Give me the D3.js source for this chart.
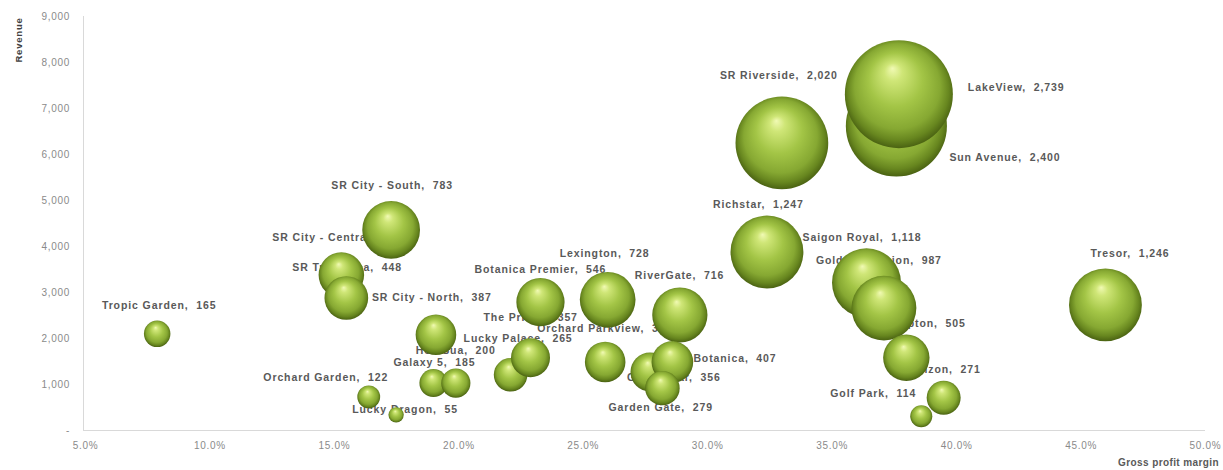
<!DOCTYPE html>
<html><head><meta charset="utf-8">
<script src="https://cdn.jsdelivr.net/npm/d3@7"></script>
<style>body{margin:0;background:#fff}svg{display:block}</style>
</head><body>
<svg id="c" width="1223" height="470"></svg>
<script>
const names = ["Tropic Garden","Orchard Garden","Lucky Dragon","SR City - South","SR City - Central","SR Tropicana","SR City - North","Galaxy 5","Hoa Sua","Lucky Palace","The Prince","Botanica Premier","Lexington","Orchard Parkview","RiverGate","Green Star","Botanica","Garden Gate","SR Riverside","Richstar","Sun Avenue","LakeView","Saigon Royal","Golden Mansion","Hampton","Horizon","Golf Park","Tresor"];
const margin = [7.9,16.4,17.5,17.3,15.3,15.5,19.1,19.0,19.9,22.1,22.9,23.3,26.0,25.9,28.9,27.7,28.6,28.2,33.0,32.4,37.6,37.7,36.4,37.1,38.0,39.5,38.6,46.0];
const revenue = [2090,720,330,4350,3370,2870,2070,1020,1020,1200,1570,2780,2830,1480,2500,1260,1480,910,6240,3870,6610,7300,3200,2650,1570,700,300,2720];
const units = [165,122,55,783,486,448,387,185,200,265,357,546,728,386,716,356,407,279,2020,1247,2400,2739,1118,987,505,271,114,1246];
const xTicks = [5,10,15,20,25,30,35,40,45,50];
const yTicks = [0,1000,2000,3000,4000,5000,6000,7000,8000,9000];
// label offsets (px) from bubble centre to label anchor
const labelOff = [[2,-29,"middle"],[-43,-20,"middle"],[9,-6,"middle"],[1,-45,"middle"],[-69,-38,"start"],[-54,-31,"start"],[-64,-38,"start"],[-40,-21,"start"],[-40,-33,"start"],[-47,-37,"start"],[-47,-41,"start"],[-66,-33,"start"],[-48,-47,"start"],[-68,-34,"start"],[-45,-40,"start"],[-23,5,"start"],[21,-4,"start"],[-54,19,"start"],[-62,-68,"start"],[-54,-48,"start"],[53,31,"start"],[69,-7,"start"],[-64,-46,"start"],[-68,-48,"start"],[-24,-35,"start"],[-40,-29,"start"],[-91,-23,"start"],[-15,-52,"start"]];

const svg = d3.select("#c");
const x = d3.scaleLinear().domain([5,50]).range([85,1205]);
const y = d3.scaleLinear().domain([0,9000]).range([430,16]);
const r = d3.scaleSqrt().domain([0,2739]).range([0,54]);
const FONT = "Liberation Sans, Arial, sans-serif";

const defs = svg.append("defs");
const g = defs.append("radialGradient").attr("id","ball").attr("cx","50%").attr("cy","48%").attr("r","52%").attr("fx","44%").attr("fy","26%");
[[0,"#f1fab4"],[0.16,"#cfe677"],[0.48,"#a3c546"],[0.76,"#86a832"],[0.9,"#67861f"],[1,"#4a6212"]].forEach(s=>g.append("stop").attr("offset",s[0]).attr("stop-color",s[1]));

// axes
const xa = svg.append("g").attr("transform","translate(0,430)")
  .call(d3.axisBottom(x).tickValues(xTicks).tickSize(0).tickPadding(12).tickFormat(d=>d.toFixed(1)+"%"));
xa.select(".domain").attr("stroke","#d9d9d9").attr("d","M83,0.5H1205");
xa.selectAll("text").attr("fill","#8a8a8a").style("font-family",FONT).style("font-size","10px").style("letter-spacing","0.7px");
const ya = svg.append("g").attr("transform","translate(83,0)")
  .call(d3.axisLeft(y).tickValues(yTicks).tickSize(0).tickPadding(13).tickFormat(d=>d===0?"-":d3.format(",")(d)));
ya.select(".domain").attr("stroke","#d9d9d9").attr("d","M0.5,16V430");
ya.selectAll("text").attr("fill","#8a8a8a").style("font-family",FONT).style("font-size","10px").style("letter-spacing","0.7px");

svg.append("text").attr("transform","translate(22,40) rotate(-90)").attr("text-anchor","middle")
  .style("font-family",FONT).style("font-size","9.5px").style("font-weight","bold").style("letter-spacing","0.8px").attr("fill","#404040").text("Revenue");
svg.append("text").attr("x",1219).attr("y",466).attr("text-anchor","end")
  .style("font-family",FONT).style("font-size","10px").style("font-weight","bold").style("letter-spacing","0.4px").attr("fill","#595959").text("Gross profit margin");

const data = names.map((n,i)=>({n,m:margin[i],v:revenue[i],u:units[i],o:labelOff[i]}));

// labels (beneath bubbles)
svg.append("g").selectAll("text").data(data).join("text")
  .attr("x",d=>x(d.m)+d.o[0]).attr("y",d=>y(d.v)+d.o[1]+4)
  .attr("text-anchor",d=>d.o[2])
  .style("font-family",FONT).style("font-size","10.5px").style("font-weight","bold").style("letter-spacing","0.9px")
  .attr("fill","#595959").attr("xml:space","preserve").text(d=>d.n+",  "+d3.format(",")(d.u));

// bubbles
svg.append("g").selectAll("circle").data(data).join("circle")
  .attr("cx",d=>x(d.m)).attr("cy",d=>y(d.v)).attr("r",d=>r(d.u))
  .attr("fill","url(#ball)");
</script>
</body></html>
